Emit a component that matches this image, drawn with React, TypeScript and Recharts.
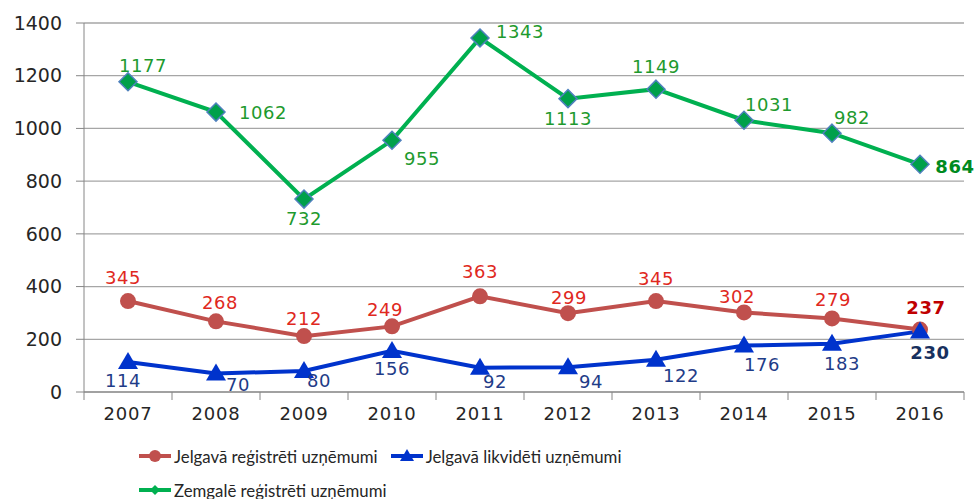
import React from 'react';
import { LineChart, Line, XAxis, YAxis, CartesianGrid, Legend } from 'recharts';

const years = ['2007', '2008', '2009', '2010', '2011', '2012', '2013', '2014', '2015', '2016'];
const jelgavaRegistered = [345, 268, 212, 249, 363, 299, 345, 302, 279, 237];
const jelgavaLiquidated = [114, 70, 80, 156, 92, 94, 122, 176, 183, 230];
const zemgaleRegistered = [1177, 1062, 732, 955, 1343, 1113, 1149, 1031, 982, 864];
const yTicks = [0, 200, 400, 600, 800, 1000, 1200, 1400];

const SERIES_NAMES = {
    red: 'Jelgavā reģistrēti uzņēmumi',
    blue: 'Jelgavā likvidēti uzņēmumi',
    green: 'Zemgalē reģistrēti uzņēmumi',
};

// label offsets (dx, dy) from each point, like the manually moved Excel labels
const redLabelPos = [[-5, -24], [4, -19], [0, -18], [-7, -17], [0, -25], [1, -16], [0, -23], [-7, -16], [1, -19], [6, -22]];
const blueLabelPos = [[-5, 19], [22, 11], [15, 10], [0, 18], [15, 14], [23, 14], [25, 16], [18, 19], [10, 20], [10, 21]];
const greenLabelPos = [[15, -16], [47, 0], [0, 19], [30, 18], [40, -7], [0, 20], [0, -23], [25, -16], [20, -16], [35, 2]];

const data = years.map((year, i) => ({
    year,
    red: jelgavaRegistered[i],
    blue: jelgavaLiquidated[i],
    green: zemgaleRegistered[i],
}));

const FONT = '"DejaVu Sans", Verdana, sans-serif';
const HALF_BAND = 44;

const makeLabel = (offsets: number[][], color: string, lastColor: string) => (props: any) => {
    const { x, y, index, value } = props;
    const [dx, dy] = offsets[index] || [0, 0];
    const last = index === years.length - 1;
    return (
        <text x={x + dx} y={y + dy} dy="0.36em" textAnchor="middle" fontFamily={FONT} fontSize={18}
            letterSpacing={0.6} fill={last ? lastColor : color} fontWeight={last ? 'bold' : 'normal'}>
            {value}
        </text>
    );
};

const CircleDot = (props: any) => {
    const { cx, cy } = props;
    return <circle key={`c${props.index}`} cx={cx} cy={cy} r={8} fill="#C0504D" />;
};

const TriangleDot = (props: any) => {
    const { cx, cy } = props;
    return <path key={`t${props.index}`} d={`M${cx},${cy - 10} L${cx + 10},${cy + 7} L${cx - 10},${cy + 7} Z`} fill="#0033CC" />;
};

const DiamondDot = (props: any) => {
    const { cx, cy } = props;
    return <path key={`d${props.index}`} d={`M${cx},${cy - 9} L${cx + 9},${cy} L${cx},${cy + 9} L${cx - 9},${cy} Z`}
        fill="#00A04A" stroke="#4F81BD" strokeWidth={1.5} />;
};

const XTick = (props: any) => {
    const { x, y, payload, index } = props;
    return (
        <g>
            <line x1={x - HALF_BAND} x2={x - HALF_BAND} y1={y} y2={y + 8} stroke="#868686" />
            {index === years.length - 1 && (
                <line x1={x + HALF_BAND} x2={x + HALF_BAND} y1={y} y2={y + 8} stroke="#868686" />
            )}
            <text x={x} y={y + 22} dy="0.36em" textAnchor="middle" fontFamily={FONT} fontSize={18}
                letterSpacing={0.8} fill="#262626">
                {payload.value}
            </text>
        </g>
    );
};

const LegendIcon = ({ color, shape }: { color: string; shape: string }) => (
    <svg width={34} height={20} style={{ marginRight: 2 }}>
        <line x1={1} x2={33} y1={10} y2={10} stroke={color} strokeWidth={4} />
        {shape === 'circle' && <circle cx={17} cy={10} r={6} fill={color} />}
        {shape === 'triangle' && <path d="M17,3 L24,15 L10,15 Z" fill={color} />}
        {shape === 'diamond' && <path d="M17,5 L22,10 L17,15 L12,10 Z" fill={color} />}
    </svg>
);

const CustomLegend = () => {
    const item = (name: string, color: string, shape: string) => (
        <div style={{ display: 'flex', alignItems: 'center', height: 34, marginRight: 12 }}>
            <LegendIcon color={color} shape={shape} />
            <span style={{ fontFamily: 'Lato, sans-serif', fontSize: 16.8, color: '#262626' }}>{name}</span>
        </div>
    );
    return (
        <div style={{ height: 64, paddingTop: 4, paddingLeft: 138, boxSizing: 'border-box', width: 975 }}>
            <div style={{ display: 'flex' }}>
                {item(SERIES_NAMES.red, '#C0504D', 'circle')}
                {item(SERIES_NAMES.blue, '#0033CC', 'triangle')}
            </div>
            <div style={{ display: 'flex' }}>
                {item(SERIES_NAMES.green, '#00B050', 'diamond')}
            </div>
        </div>
    );
};

export default function App() {
    return (
        <div style={{ position: 'absolute', left: 0, top: 0, background: '#fff' }}>
            <LineChart width={975} height={499} data={data} margin={{ top: 23, right: 11, left: 0, bottom: 0 }}>
                <CartesianGrid vertical={false} stroke="#A6A6A6" strokeWidth={1.3} />
                <XAxis dataKey="year" height={43} tickLine={false} tickSize={0} tickMargin={0}
                    padding={{ left: HALF_BAND, right: HALF_BAND }}
                    axisLine={{ stroke: '#868686' }} tick={<XTick />} interval={0} />
                <YAxis width={84} domain={[0, 1400]} ticks={yTicks} tickSize={8} tickMargin={14}
                    axisLine={{ stroke: '#868686' }} tickLine={{ stroke: '#868686' }}
                    tick={{ fontFamily: FONT, fontSize: 19, fill: '#262626' }} />
                <Legend verticalAlign="bottom" content={<CustomLegend />} />
                <Line dataKey="red" name={SERIES_NAMES.red} stroke="#C0504D" strokeWidth={4} dot={CircleDot}
                    label={makeLabel(redLabelPos, '#E0281E', '#C00000')} isAnimationActive={false} />
                <Line dataKey="blue" name={SERIES_NAMES.blue} stroke="#0033CC" strokeWidth={4} dot={TriangleDot}
                    label={makeLabel(blueLabelPos, '#1F3C88', '#17305E')} isAnimationActive={false} />
                <Line dataKey="green" name={SERIES_NAMES.green} stroke="#00B050" strokeWidth={4} dot={DiamondDot}
                    label={makeLabel(greenLabelPos, '#1E9A2E', '#008A1E')} isAnimationActive={false} />
            </LineChart>
        </div>
    );
}
